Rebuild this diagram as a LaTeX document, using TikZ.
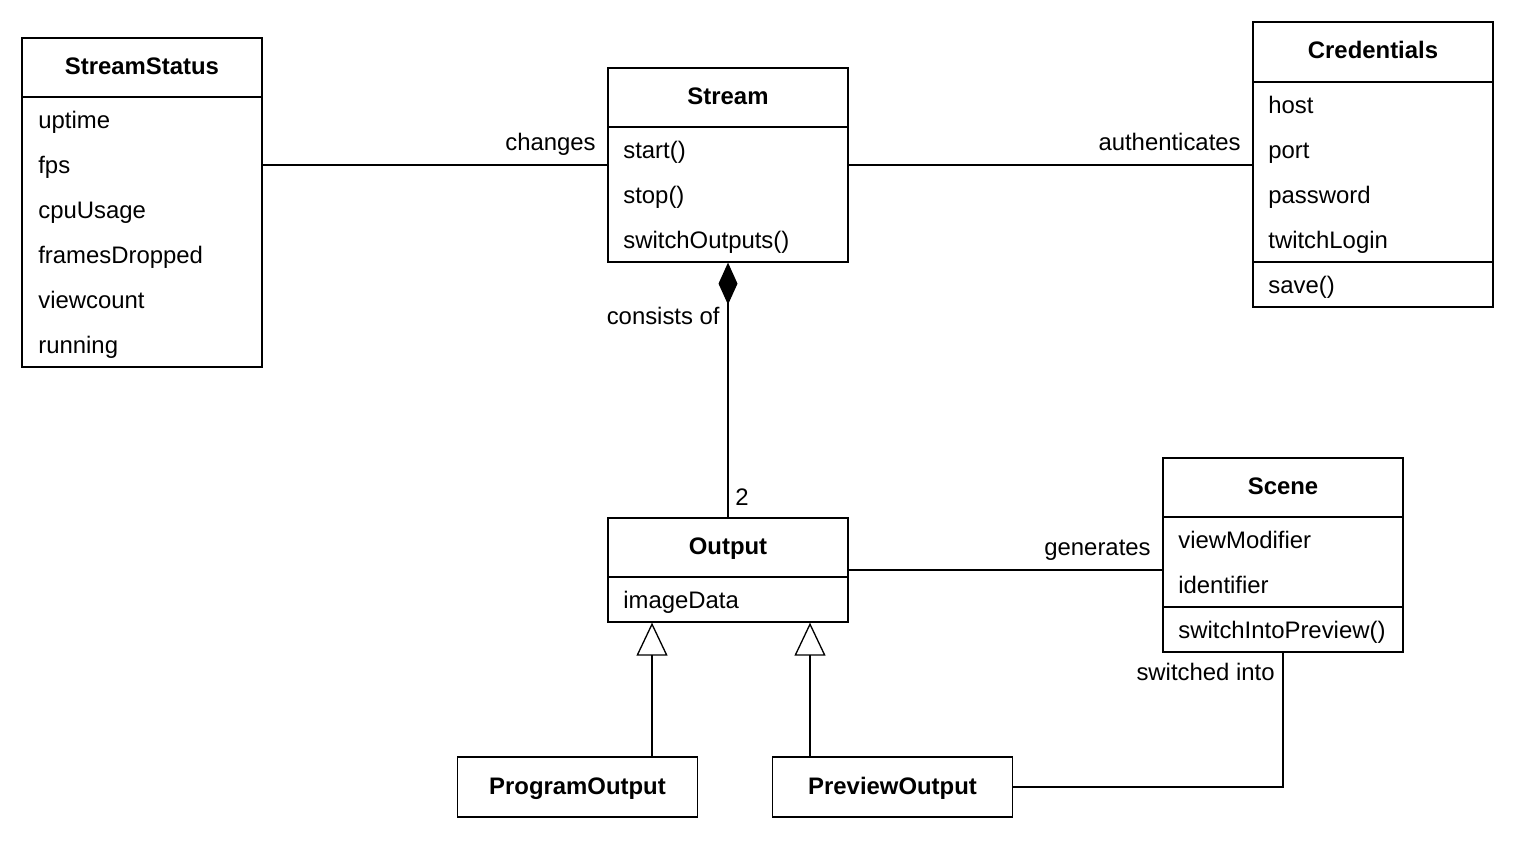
\documentclass[tikz,border=0pt]{standalone}
\usepackage{fontspec}
\setmainfont{Liberation Sans}
\usetikzlibrary{arrows.meta,calc,positioning}
\tikzset{
    %Define style for class boxes
    classbox/.style={
           rectangle,
           draw=black, line width=0.75pt,
           minimum width=4.8cm,
           inner sep=0pt},
    %Define style for class names and members
    classname/.style={
           anchor=base,
           inner sep=0pt,
           yshift=-0.03cm,
           font=\fontsize{13.6}{16}\selectfont\bfseries},
    member/.style={
           anchor=base west,
           inner sep=0pt,
           yshift=-0.03cm,
           font=\fontsize{13.6}{16}\selectfont},
    rolelabel/.style={
           anchor=base east,
           inner sep=0pt,
           yshift=-0.03cm,
           font=\fontsize{13.6}{16}\selectfont},
    % Define connector styles
    assoc/.style={
           line width=0.75pt},
    compose/.style={
           line width=0.75pt,
           -{Diamond[length=0.84cm,width=0.38cm]}},
    inherit/.style={
           line width=0.75pt,
           -{Triangle[open,length=0.66cm,width=0.62cm,fill=white]}}
}
\begin{document}
\begin{tikzpicture}[x=0.02cm,y=-0.02cm]
\useasboundingbox (0,0) rectangle (1515,841);

 %class boxes
\node[classbox, minimum height=6.58cm] (StreamStatus) at (142,202.5) {};
\node[classbox, minimum height=3.88cm] (Stream) at (728,165) {};
\node[classbox, minimum height=5.70cm] (Credentials) at (1373,164.5) {};
\node[classbox, minimum height=2.08cm] (Output) at (728,570) {};
\node[classbox, minimum height=3.88cm] (Scene) at (1283,555) {};
\node[classbox, minimum height=1.20cm] (ProgramOutput) at (577.5,787) {};
\node[classbox, minimum height=1.20cm] (PreviewOutput) at (892.5,787) {};

 %compartments
\draw[assoc] (StreamStatus.west |- 0,97) -- (StreamStatus.east |- 0,97);
\draw[assoc] (Stream.west |- 0,127) -- (Stream.east |- 0,127);
\draw[assoc] (Credentials.west |- 0,82) -- (Credentials.east |- 0,82);
\draw[assoc] (Credentials.west |- 0,262) -- (Credentials.east |- 0,262);
\draw[assoc] (Output.west |- 0,577) -- (Output.east |- 0,577);
\draw[assoc] (Scene.west |- 0,517) -- (Scene.east |- 0,517);
\draw[assoc] (Scene.west |- 0,607) -- (Scene.east |- 0,607);

 %StreamStatus
\node[classname] (ssName) at (142,73) {StreamStatus};
\node[member] (ssUptime) at (38,127) {uptime};
\node[member] (ssFps) at (38,172) {fps};
\node[member] (ssCpu) at (38,217) {cpuUsage};
\node[member] (ssFrames) at (38,262) {framesDropped};
\node[member] (ssViews) at (38,307) {viewcount};
\node[member] (ssRunning) at (38,352) {running};

 %Stream
\node[classname] (stName) at (728,103) {Stream};
\node[member] (stStart) at (623,157) {start()};
\node[member] (stStop) at (623,202) {stop()};
\node[member] (stSwitch) at (623,247) {switchOutputs()};

 %Credentials
\node[classname] (crName) at (1373,57.5) {Credentials};
\node[member] (crHost) at (1268,112) {host};
\node[member] (crPort) at (1268,157) {port};
\node[member] (crPassword) at (1268,202) {password};
\node[member] (crLogin) at (1268,247) {twitchLogin};
\node[member] (crSave) at (1268,292) {save()};

 %Output
\node[classname] (outName) at (728,553) {Output};
\node[member] (outImage) at (623,607) {imageData};

 %Scene
\node[classname] (scName) at (1283,493) {Scene};
\node[member] (scView) at (1178,547) {viewModifier};
\node[member] (scId) at (1178,592) {identifier};
\node[member] (scSwitch) at (1178,637) {switchIntoPreview()};

 %subclasses
\node[classname] (progName) at (577.5,792.5) {ProgramOutput};
\node[classname] (prevName) at (892.5,792.5) {PreviewOutput};

 %connectors
\draw[assoc] (Stream.west) -- (Stream.west -| StreamStatus.east);
\draw[assoc] (Stream.east) -- (Stream.east -| Credentials.west);
\draw[compose] (Output.north) -- (Stream.south);
\draw[assoc] (Output.east) -- (Output.east -| Scene.west);
\draw[inherit] ($(ProgramOutput.north)+(74.5,0)$) -- ($(ProgramOutput.north |- Output.south)+(74.5,0)$);
\draw[inherit] ($(PreviewOutput.north)+(-82.5,0)$) -- ($(PreviewOutput.north |- Output.south)+(-82.5,0)$);
\draw[assoc] (PreviewOutput.east) -| (Scene.south);

 %labels
\node[rolelabel] (lChanges) at (596,149) {changes};
\node[rolelabel] (lAuth) at (1241,149) {authenticates};
\node[rolelabel] (lConsists) at (720,323) {consists of};
\node[member] (lTwo) at (735,504) {2};
\node[rolelabel] (lGenerates) at (1151,554) {generates};
\node[rolelabel] (lSwitched) at (1275,679) {switched into};

\end{tikzpicture}
\end{document}
